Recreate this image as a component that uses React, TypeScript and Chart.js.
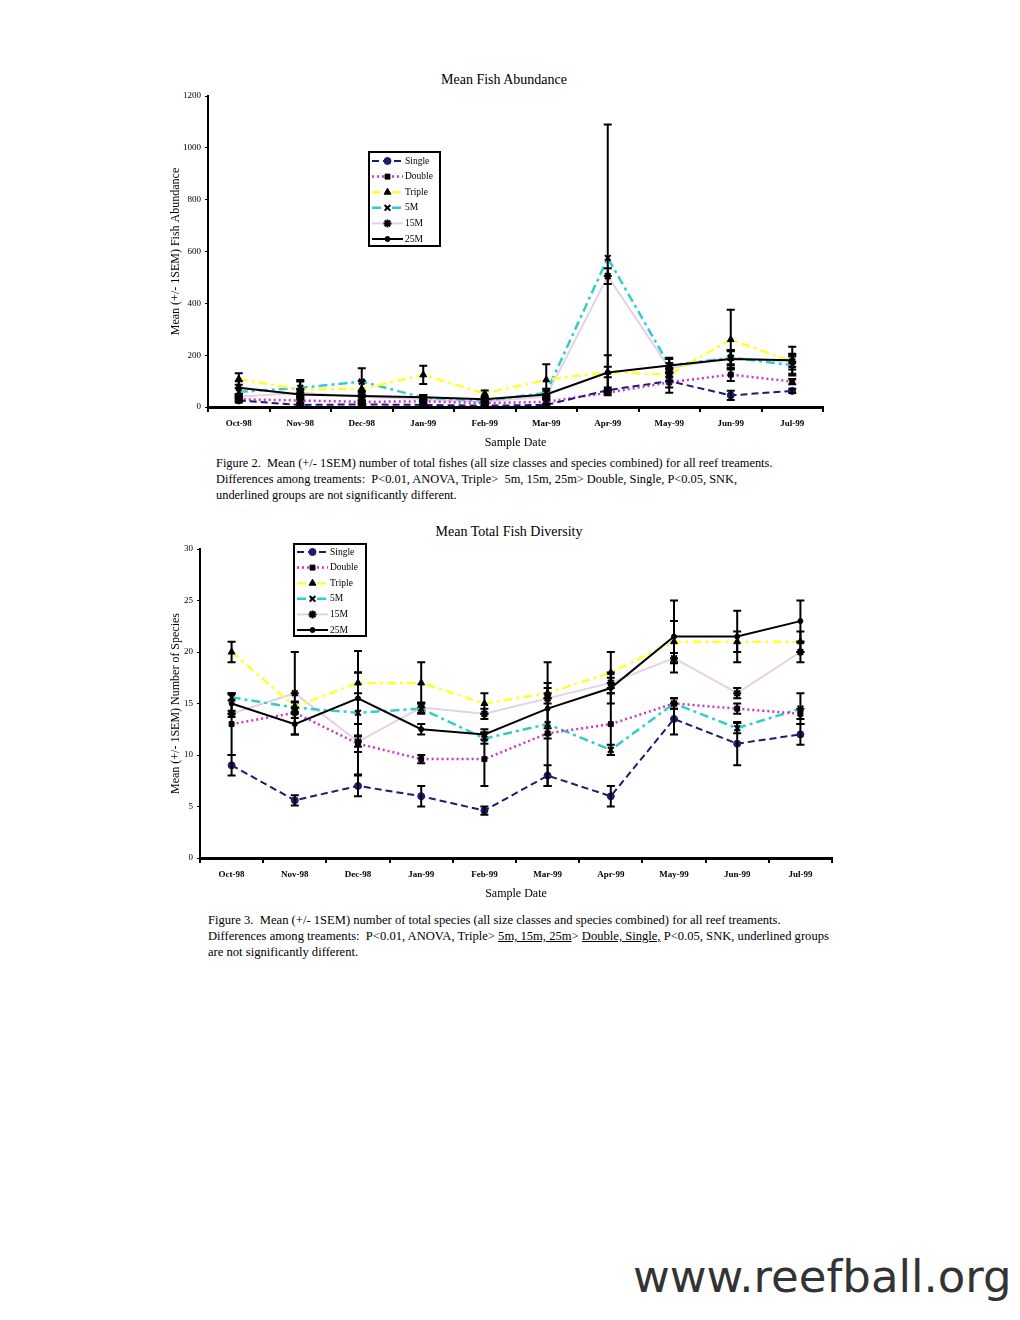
import React, { useEffect, useRef } from 'react';
import { Chart, registerables } from 'chart.js';
import { drawPoint } from 'chart.js/helpers';

Chart.register(...registerables);

// ---------- data ----------
const months = ['Oct-98', 'Nov-98', 'Dec-98', 'Jan-99', 'Feb-99', 'Mar-99', 'Apr-99', 'May-99', 'Jun-99', 'Jul-99'];
const seriesNames = ['Single', 'Double', 'Triple', '5M', '15M', '25M'];

// Figure 2: mean fish abundance
const abundanceSingle = [25, 8, 10, 8, 5, 8, 65, 100, 45, 62];
const abundanceDouble = [30, 25, 20, 22, 15, 20, 55, 95, 125, 98];
const abundanceTriple = [108, 68, 70, 124, 52, 105, 135, 125, 260, 175];
const abundance5M = [58, 74, 98, 36, 24, 55, 575, 160, 190, 162];
const abundance15M = [40, 55, 40, 30, 20, 40, 505, 150, 190, 175];
const abundance25M = [74, 48, 42, 38, 30, 48, 133, 160, 185, 180];

const abundanceSemSingle = [8, 5, 5, 5, 3, 5, 10, 45, 18, 8];
const abundanceSemDouble = [8, 8, 8, 5, 5, 8, 10, 20, 25, 10];
const abundanceSemTriple = [22, 30, 30, 35, 12, 60, 20, 25, 115, 30];
const abundanceSem5M = [15, 30, 52, 10, 8, 15, 515, 25, 30, 40];
const abundanceSem15M = [10, 15, 15, 8, 6, 10, 30, 20, 25, 20];
const abundanceSem25M = [25, 20, 20, 8, 8, 15, 67, 30, 35, 52];

const abundanceTicks = [0, 200, 400, 600, 800, 1000, 1200];

// Figure 3: mean total fish diversity
const diversitySingle = [9.0, 5.6, 7.0, 6.0, 4.6, 8.0, 6.0, 13.5, 11.1, 12.0];
const diversityDouble = [13.0, 14.1, 11.1, 9.6, 9.6, 12.1, 13.0, 15.0, 14.5, 14.0];
const diversityTriple = [20.0, 14.7, 17.0, 17.0, 15.0, 16.0, 18.0, 21.0, 21.0, 21.0];
const diversity5M = [15.6, 14.6, 14.1, 14.5, 11.6, 13.0, 10.5, 15.0, 12.6, 14.5];
const diversity15M = [14.0, 16.0, 11.3, 14.6, 14.0, 15.5, 17.0, 19.4, 16.0, 20.0];
const diversity25M = [15.0, 13.0, 15.5, 12.5, 12.0, 14.5, 16.5, 21.5, 21.5, 23.0];

const diversitySemSingle = [1, 0.5, 1, 1, 0.4, 1, 1, 1.5, 2.1, 1];
const diversitySemDouble = [3, 0.5, 0.8, 0.4, 2.6, 0.5, 3, 0.5, 0.5, 0.5];
const diversitySemTriple = [1, 0.5, 1, 2, 1, 0.5, 2, 2, 1, 1];
const diversitySem5M = [0.3, 0.5, 6, 0.5, 0.5, 6, 0.5, 0.5, 0.5, 1.5];
const diversitySem15M = [0.3, 4, 0.5, 0.5, 0.5, 0.5, 0.5, 0.5, 0.5, 1];
const diversitySem25M = [1, 1, 2.5, 0.5, 0.5, 2.5, 1.5, 3.5, 2.5, 2];

const diversityTicks = [0, 5, 10, 15, 20, 25, 30];

// ---------- styles ----------
const SERIF = '"Liberation Serif", "Times New Roman", serif';

const seriesStyles = [
  { color: '#1c1c70', dash: [7, 4], width: 2, point: 'circle', radius: 3.5, pointColor: '#1c1c70', pointBorder: 1 },
  { color: '#cc33cc', dash: [2, 3], width: 2.5, point: 'rect', radius: 3.5, pointColor: '#000', pointBorder: 1 },
  { color: '#ffff33', dash: [9, 4, 3, 4], width: 2.5, point: 'triangle', radius: 4, pointColor: '#000', pointBorder: 1 },
  { color: '#33cccc', dash: [9, 4, 3, 4], width: 2.5, point: 'crossRot', radius: 4, pointColor: '#000', pointBorder: 2 },
  { color: '#e6d0e6', dash: [], width: 2, point: 'star', radius: 4, pointColor: '#000', pointBorder: 2 },
  { color: '#000000', dash: [], width: 2, point: 'circle', radius: 2.5, pointColor: '#000', pointBorder: 1 },
];

// ---------- plugins ----------
const errorBarPlugin = {
  id: 'errorBars',
  afterDatasetsDraw(chart: any) {
    const { ctx } = chart;
    const yScale = chart.scales.y;
    chart.data.datasets.forEach((ds: any, i: number) => {
      const sem = ds.sem;
      if (!sem) return;
      const meta = chart.getDatasetMeta(i);
      ctx.save();
      ctx.strokeStyle = '#000';
      ctx.lineWidth = 2;
      ctx.setLineDash([]);
      meta.data.forEach((pt: any, j: number) => {
        const v = ds.data[j];
        const e = sem[j];
        if (!e) return;
        const x = pt.x;
        const yTop = yScale.getPixelForValue(v + e);
        const yBot = yScale.getPixelForValue(Math.max(0, v - e));
        ctx.beginPath();
        ctx.moveTo(x, yTop);
        ctx.lineTo(x, yBot);
        ctx.moveTo(x - 4, yTop);
        ctx.lineTo(x + 4, yTop);
        ctx.moveTo(x - 4, yBot);
        ctx.lineTo(x + 4, yBot);
        ctx.stroke();
      });
      ctx.restore();
    });
  },
};

const boxLegendPlugin = {
  id: 'boxLegend',
  afterDraw(chart: any, _args: any, opts: any) {
    const { ctx } = chart;
    const { x, y, w, h, rowH, firstRow, lineLen } = opts;
    ctx.save();
    ctx.fillStyle = '#fff';
    ctx.fillRect(x, y, w, h);
    ctx.strokeStyle = '#000';
    ctx.lineWidth = 2;
    ctx.setLineDash([]);
    ctx.strokeRect(x, y, w, h);
    chart.data.datasets.forEach((ds: any, i: number) => {
      const cy = y + firstRow + rowH * i;
      ctx.save();
      ctx.strokeStyle = ds.borderColor;
      ctx.lineWidth = ds.borderWidth;
      ctx.setLineDash(ds.borderDash || []);
      ctx.beginPath();
      ctx.moveTo(x + 3, cy);
      ctx.lineTo(x + 3 + lineLen, cy);
      ctx.stroke();
      ctx.restore();
      ctx.save();
      ctx.fillStyle = ds.pointBackgroundColor;
      ctx.strokeStyle = ds.pointBorderColor;
      ctx.lineWidth = ds.pointBorderWidth;
      ctx.setLineDash([]);
      drawPoint(ctx, { pointStyle: ds.pointStyle, radius: ds.pointRadius, borderWidth: ds.pointBorderWidth, rotation: 0 } as any, x + 3 + lineLen / 2, cy);
      ctx.restore();
      ctx.fillStyle = '#000';
      ctx.font = `9.5px ${SERIF}`;
      ctx.textBaseline = 'middle';
      ctx.textAlign = 'left';
      ctx.fillText(ds.label, x + lineLen + 5, cy);
    });
    ctx.restore();
  },
};

function buildDatasets(values: number[][], sems: number[][]) {
  return values.map((data, i) => {
    const s = seriesStyles[i];
    return {
      label: seriesNames[i],
      data,
      sem: sems[i],
      borderColor: s.color,
      backgroundColor: s.color,
      borderWidth: s.width,
      borderDash: s.dash,
      pointStyle: s.point,
      pointRadius: s.radius,
      pointBackgroundColor: s.pointColor,
      pointBorderColor: s.pointColor,
      pointBorderWidth: s.pointBorder,
      tension: 0,
      fill: false,
      order: i === 5 ? -1 : i,
    };
  });
}

type ChartProps = {
  values: number[][];
  sems: number[][];
  ticks: number[];
  yTitle: string;
  width: number;
  height: number;
  padding: { left: number; top: number; right: number; bottom: number };
  yWidth: number;
  xHeight: number;
  legend: any;
};

function LineChart(p: ChartProps) {
  const ref = useRef<HTMLCanvasElement>(null);
  useEffect(() => {
    if (!ref.current) return;
    const step = p.ticks[1] - p.ticks[0];
    const chart = new Chart(ref.current, {
      type: 'line',
      data: { labels: months, datasets: buildDatasets(p.values, p.sems) as any },
      plugins: [errorBarPlugin, boxLegendPlugin],
      options: {
        responsive: false,
        animation: false,
        layout: { padding: p.padding },
        plugins: {
          legend: { display: false },
          tooltip: { enabled: false },
          title: { display: false },
          boxLegend: p.legend,
        } as any,
        scales: {
          x: {
            type: 'category',
            offset: true,
            grid: {
              display: true,
              drawOnChartArea: false,
              drawTicks: true,
              tickLength: 5,
              offset: true,
              color: '#000',
              lineWidth: 2,
            },
            border: { display: true, color: '#000', width: 3 },
            ticks: {
              color: '#000',
              font: { family: SERIF, size: 9, weight: 'bold' },
              padding: 6,
              maxRotation: 0,
              autoSkip: false,
            },
            title: { display: true, text: 'Sample Date', color: '#000', font: { family: SERIF, size: 12 } },
            afterFit: (s: any) => {
              s.height = p.xHeight;
            },
          },
          y: {
            min: p.ticks[0],
            max: p.ticks[p.ticks.length - 1],
            grid: {
              display: true,
              drawOnChartArea: false,
              drawTicks: true,
              tickLength: 3,
              color: '#000',
              lineWidth: 1,
            },
            border: { display: true, color: '#000', width: 2 },
            ticks: {
              stepSize: step,
              color: '#000',
              font: { family: SERIF, size: 9 },
              padding: 4,
              callback: (v: any) => String(v),
            },
            title: { display: true, text: p.yTitle, color: '#000', font: { family: SERIF, size: 12 } },
            afterFit: (s: any) => {
              s.width = p.yWidth;
            },
          },
        },
      } as any,
    });
    return () => chart.destroy();
  }, []);
  return <canvas ref={ref} width={p.width} height={p.height} style={{ width: p.width, height: p.height, display: 'block' }} />;
}

const textLine: React.CSSProperties = { whiteSpace: 'pre', height: 16, lineHeight: '16px' };

export default function App() {
  return (
    <div style={{ position: 'absolute', left: 0, top: 0, width: 1020, height: 1320, background: '#fff', fontFamily: SERIF, color: '#000', overflow: 'hidden' }}>
      {/* Figure 2 */}
      <div style={{ position: 'absolute', left: 304, top: 72, width: 400, textAlign: 'center', fontSize: 14, lineHeight: '16px' }}>Mean Fish Abundance</div>
      <div style={{ position: 'absolute', left: 160, top: 80 }}>
        <LineChart
          values={[abundanceSingle, abundanceDouble, abundanceTriple, abundance5M, abundance15M, abundance25M]}
          sems={[abundanceSemSingle, abundanceSemDouble, abundanceSemTriple, abundanceSem5M, abundanceSem15M, abundanceSem25M]}
          ticks={abundanceTicks}
          yTitle="Mean (+/- 1SEM) Fish Abundance"
          width={680}
          height={374}
          padding={{ left: 5, top: 16, right: 17, bottom: 0 }}
          yWidth={43}
          xHeight={47}
          legend={{ x: 209, y: 72, w: 71, h: 94, rowH: 15.6, firstRow: 9, lineLen: 31 }}
        />
      </div>
      <div style={{ position: 'absolute', left: 216, top: 455, fontSize: 12.4 }}>
        <div style={textLine}>Figure 2.  Mean (+/- 1SEM) number of total fishes (all size classes and species combined) for all reef treaments.</div>
        <div style={textLine}>Differences among treaments:  P&lt;0.01, ANOVA, Triple&gt;  5m, 15m, 25m&gt; Double, Single, P&lt;0.05, SNK,</div>
        <div style={textLine}>underlined groups are not significantly different.</div>
      </div>

      {/* Figure 3 */}
      <div style={{ position: 'absolute', left: 309, top: 524, width: 400, textAlign: 'center', fontSize: 14, lineHeight: '16px' }}>Mean Total Fish Diversity</div>
      <div style={{ position: 'absolute', left: 160, top: 535 }}>
        <LineChart
          values={[diversitySingle, diversityDouble, diversityTriple, diversity5M, diversity15M, diversity25M]}
          sems={[diversitySemSingle, diversitySemDouble, diversitySemTriple, diversitySem5M, diversitySem15M, diversitySem25M]}
          ticks={diversityTicks}
          yTitle="Mean (+/- 1SEM) Number of Species"
          width={690}
          height={370}
          padding={{ left: 5, top: 14, right: 18, bottom: 0 }}
          yWidth={35}
          xHeight={47}
          legend={{ x: 134, y: 9, w: 72, h: 92, rowH: 15.6, firstRow: 8, lineLen: 31 }}
        />
      </div>
      <div style={{ position: 'absolute', left: 208, top: 912, fontSize: 12.6 }}>
        <div style={textLine}>Figure 3.  Mean (+/- 1SEM) number of total species (all size classes and species combined) for all reef treaments.</div>
        <div style={textLine}>
          Differences among treaments:  P&lt;0.01, ANOVA, Triple&gt; <u>5m, 15m, 25m</u>&gt; <u>Double, Single,</u> P&lt;0.05, SNK, underlined groups
        </div>
        <div style={textLine}>are not significantly different.</div>
      </div>

      {/* watermark */}
      <div style={{ position: 'absolute', left: 633, top: 1254, fontFamily: '"DejaVu Sans", sans-serif', fontSize: 45, lineHeight: '45px', color: '#333', whiteSpace: 'pre' }}>www.reefball.org</div>
    </div>
  );
}
